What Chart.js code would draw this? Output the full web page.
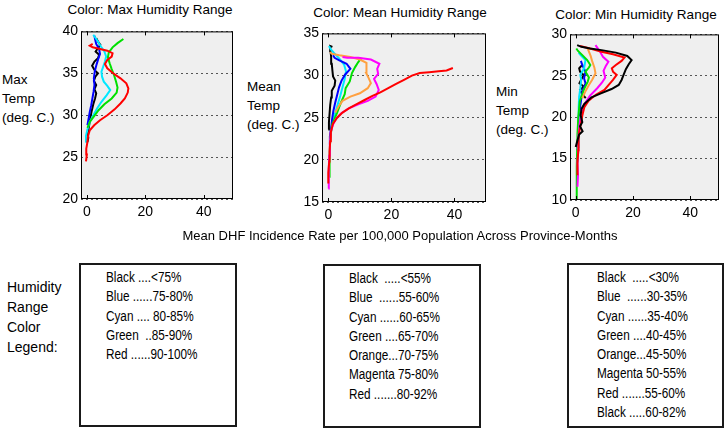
<!DOCTYPE html>
<html>
<head>
<meta charset="utf-8">
<script src="https://cdn.jsdelivr.net/npm/chart.js@4/dist/chart.umd.min.js"></script>
<style>
  html, body { margin: 0; padding: 0; background: #fff; }
  #page { position: relative; width: 727px; height: 430px; overflow: hidden;
          font-family: "Liberation Sans", Arial, sans-serif; color: #000; }
  .abs { position: absolute; white-space: pre; }
  .title { font-size: 13.5px; line-height: 16px; transform: translateX(-50%); }
  .ylab { font-size: 13.5px; line-height: 19px; }
  .xlab { font-size: 13px; line-height: 16px; transform: translateX(-50%); }
  .box { position: absolute; border: 2px solid #1a1a1a; box-sizing: border-box; }
  .leg { font-size: 14px; line-height: 19.3px; transform: scaleX(0.84); transform-origin: 0 0; }
  canvas { position: absolute; }
</style>
</head>
<body>
<div id="page">
  <div class="abs title" style="left:150px; top:2px;">Color: Max Humidity Range</div>
  <div class="abs title" style="left:400px; top:5px;">Color: Mean Humidity Range</div>
  <div class="abs title" style="left:636px; top:7px;">Color: Min Humidity Range</div>

  <div class="abs ylab" style="left:2px; top:70px;">Max
Temp
(deg. C.)</div>
  <div class="abs ylab" style="left:247px; top:77px;">Mean
Temp
(deg. C.)</div>
  <div class="abs ylab" style="left:496px; top:82px;">Min
Temp
(deg. C.)</div>

  <canvas id="c-max" width="200" height="215" style="left:41px; top:20px;"></canvas>
  <canvas id="c-mean" width="212" height="215" style="left:282px; top:22px;"></canvas>
  <canvas id="c-min" width="195" height="212" style="left:530px; top:23px;"></canvas>

  <div class="abs xlab" style="left:400px; top:228px;">Mean DHF Incidence Rate per 100,000 Population Across Province-Months</div>

  <div class="abs ylab" style="left:7px; top:277px; font-size:14px; line-height:20px;">Humidity
Range
Color
Legend:</div>

  <div class="box" style="left:79px; top:263px; width:158px; height:164px;"></div>
  <div class="box" style="left:323px; top:264px; width:158px; height:164px;"></div>
  <div class="box" style="left:567px; top:263px; width:157px; height:165px;"></div>

  <div class="abs leg" style="left:106px; top:268px;">Black ....&lt;75%
Blue ......75-80%
Cyan .... 80-85%
Green  ..85-90%
Red ......90-100%</div>
  <div class="abs leg" style="left:349px; top:269px;">Black  .....&lt;55%
Blue  ......55-60%
Cyan ......60-65%
Green ....65-70%
Orange...70-75%
Magenta 75-80%
Red .......80-92%</div>
  <div class="abs leg" style="left:597px; top:268px;">Black  .....&lt;30%
Blue  ......30-35%
Cyan ......35-40%
Green ....40-45%
Orange...45-50%
Magenta 50-55%
Red .......55-60%
Black .....60-82%</div>
</div>

<script>
(function () {
  'use strict';

  // ── Axis ticks ─────────────────────────────────────────────────
  const xTicks = [0, 20, 40];
  const maxTempTicks = [20, 25, 30, 35, 40];
  const meanTempTicks = [15, 20, 25, 30, 35];
  const minTempTicks = [10, 15, 20, 25, 30];

  // ── Max humidity range (y = max temp, x = mean DHF rate) ───────
  const maxRedX   = [-0.3, 0.0, -0.2, 0.2, 0.4, 1.0, 2.5, 4.5, 7.0, 9.5, 11.5, 13.0, 14.0, 14.2, 13.5, 11.5, 9.0, 7.0, 6.2, 7.0, 8.5, 8.8, 7.0, 4.5, 2.0, 1.0, 2.0];
  const maxRedY   = [24.5, 25.3, 26.0, 26.8, 27.5, 28.2, 28.8, 29.4, 30.0, 30.7, 31.4, 32.0, 32.7, 33.2, 33.8, 34.4, 35.0, 35.6, 36.1, 36.6, 37.0, 37.4, 37.7, 37.9, 38.1, 38.3, 38.5];
  const maxGreenX = [0.2, 1.0, 2.5, 4.0, 6.0, 8.5, 10.2, 10.5, 10.0, 9.3, 8.5, 7.8, 7.2, 7.5, 8.8, 10.5, 12.5];
  const maxGreenY = [28.5, 29.2, 29.9, 30.6, 31.3, 32.0, 32.7, 33.3, 34.0, 34.8, 35.5, 36.2, 36.9, 37.5, 38.1, 38.6, 39.1];
  const maxCyanX  = [-0.5, -0.3, 0.2, 1.0, 2.2, 3.5, 5.0, 6.8, 8.0, 7.0, 5.8, 5.2, 5.0, 5.6, 6.2, 6.6, 6.0, 4.8, 3.8, 2.8, 2.2];
  const maxCyanY  = [26.8, 27.5, 28.3, 29.2, 30.0, 30.8, 31.6, 32.4, 33.0, 33.5, 34.0, 34.6, 35.2, 35.8, 36.4, 37.0, 37.6, 38.2, 38.8, 39.3, 39.6];
  const maxBlueX  = [0.2, 0.6, 1.0, 1.5, 1.9, 2.3, 2.6, 2.4, 2.7, 3.2, 3.8, 4.5, 4.2, 3.2, 2.8, 2.6];
  const maxBlueY  = [28.8, 29.6, 30.4, 31.2, 32.0, 32.8, 33.6, 34.4, 35.2, 35.9, 36.6, 37.3, 37.9, 38.5, 39.1, 39.5];
  const maxBlackX = [0.2, 0.5, 0.3, 0.7, 1.1, 1.6, 2.2, 2.8, 3.2, 2.6, 3.2, 2.4, 2.9, 3.8, 2.6, 1.8, 2.6, 3.8, 4.2, 3.0, 3.8, 4.6, 3.8, 3.2];
  const maxBlackY = [26.8, 27.3, 27.8, 28.6, 29.5, 30.4, 31.3, 32.0, 32.6, 33.1, 33.6, 34.1, 34.6, 35.0, 35.4, 35.9, 36.4, 36.8, 37.2, 37.6, 38.0, 38.4, 38.8, 39.2];

  // ── Mean humidity range ────────────────────────────────────────
  const meanRedX     = [0.0, 0.0, 0.3, 0.4, 0.6, 0.8, 1.5, 2.8, 4.5, 6.5, 9.0, 11.5, 14.0, 16.5, 19.0, 21.5, 24.0, 26.5, 29.0, 32.0, 35.0, 37.5, 39.5];
  const meanRedY     = [17.2, 18.5, 19.8, 21.0, 22.2, 23.3, 24.3, 25.0, 25.6, 26.1, 26.6, 27.1, 27.6, 28.0, 28.5, 29.0, 29.5, 30.0, 30.3, 30.4, 30.5, 30.6, 30.9];
  const meanMagentaX = [0.0, 0.2, 0.1, 0.3, 0.5, 0.8, 1.5, 2.5, 4.0, 6.5, 9.5, 12.5, 15.0, 16.0, 15.3, 14.5, 15.8, 15.5, 16.2, 13.5, 9.5, 6.0, 4.5];
  const meanMagentaY = [16.6, 17.8, 19.0, 20.5, 22.0, 23.3, 24.2, 24.9, 25.5, 26.1, 26.6, 27.0, 27.5, 28.3, 29.0, 29.6, 30.2, 30.8, 31.4, 31.9, 32.1, 32.1, 32.2];
  const meanOrangeX  = [2.2, 3.2, 4.5, 7.0, 10.0, 12.5, 13.5, 12.8, 12.0, 12.2, 12.0, 10.0, 7.0, 3.5, 1.0, 0.6];
  const meanOrangeY  = [25.6, 26.3, 27.0, 27.5, 27.9, 28.5, 29.1, 29.7, 30.3, 31.0, 31.5, 31.9, 32.2, 32.4, 32.6, 32.8];
  const meanGreenX   = [0.3, 0.4, 0.6, 1.2, 2.8, 4.0, 5.2, 5.5, 6.8, 7.5, 8.5, 9.5, 10.5];
  const meanGreenY   = [18.0, 20.0, 22.5, 24.2, 25.6, 26.8, 27.8, 28.5, 29.3, 30.3, 31.0, 31.6, 32.1];
  const meanBlueX    = [0.3, 0.5, 0.9, 1.2, 1.6, 2.2, 2.8, 3.4, 4.2, 5.3, 7.0, 5.8, 3.5, 2.0, 1.5];
  const meanBlueY    = [21.8, 22.8, 23.8, 24.8, 25.8, 26.8, 27.7, 28.6, 29.4, 30.1, 30.8, 31.4, 31.8, 32.1, 32.4];
  const meanCyanX    = [1.2, 2.2, 3.0, 3.8, 4.5, 5.2, 5.6, 5.0, 3.5, 2.0, 0.8, 0.2];
  const meanCyanY    = [24.6, 25.6, 26.6, 27.6, 28.6, 29.6, 30.5, 31.3, 32.0, 32.6, 33.1, 33.5];
  const meanBlackX   = [0.0, 0.2, 0.4, 0.6, 0.9, 1.1, 2.0, 2.2, 1.5, 1.3, 1.1, 0.9, 0.7, 0.6, 1.3];
  const meanBlackY   = [23.6, 24.5, 25.5, 26.5, 27.4, 28.2, 28.8, 29.4, 29.9, 30.6, 31.4, 32.2, 32.9, 33.5, 33.4];

  // ── Min humidity range ─────────────────────────────────────────
  const minBlackX    = [0.0, 0.6, 1.2, 2.4, 1.5, 2.3, 1.7, 2.0, 3.0, 5.5, 9.0, 12.5, 15.0, 16.0, 16.8, 17.5, 18.5, 19.5, 18.0, 14.0, 9.0, 5.0, 2.0, 0.5];
  const minBlackY    = [16.4, 17.2, 17.9, 18.3, 18.9, 19.4, 20.2, 21.0, 21.6, 22.4, 22.9, 23.4, 23.9, 24.5, 25.2, 25.8, 26.4, 26.9, 27.4, 27.8, 28.1, 28.3, 28.5, 28.7];
  const minRedX      = [0.6, 0.6, 0.9, 1.0, 1.2, 1.8, 2.3, 3.0, 4.5, 7.0, 10.0, 11.5, 13.0, 14.3, 13.0, 12.6, 14.0, 16.0, 17.0, 13.0, 9.0, 5.0, 1.5];
  const minRedY      = [13.0, 14.5, 16.0, 17.2, 18.2, 19.2, 20.2, 21.2, 22.0, 22.7, 23.3, 23.9, 24.5, 25.1, 25.5, 25.9, 26.3, 26.8, 27.2, 27.6, 27.9, 28.3, 28.6];
  const minMagentaX  = [0.6, 0.8, 0.6, 0.9, 0.9, 1.3, 1.8, 2.9, 5.0, 7.5, 9.2, 10.3, 9.7, 10.5, 11.4, 9.5, 8.5, 7.5, 6.9];
  const minMagentaY  = [11.6, 13.0, 14.5, 16.0, 17.5, 19.0, 20.2, 21.5, 22.6, 23.5, 24.2, 24.8, 25.6, 26.2, 26.7, 27.3, 27.9, 28.4, 28.7];
  const minOrangeX   = [2.3, 3.5, 4.6, 5.7, 6.9, 6.5, 5.7, 5.2, 4.5, 4.0];
  const minOrangeY   = [22.3, 23.2, 23.9, 24.5, 25.3, 26.0, 26.8, 27.4, 28.0, 28.4];
  const minGreenX    = [0.2, 0.3, 0.4, 0.5, 0.6, 0.9, 1.4, 2.9, 4.2, 4.6, 3.4, 4.6, 5.1, 4.0, 2.3, 0.8, 0.2];
  const minGreenY    = [10.0, 12.0, 14.0, 16.0, 18.0, 20.0, 21.9, 23.4, 24.3, 24.8, 25.5, 26.0, 26.3, 26.9, 27.5, 28.0, 28.3];
  const minCyanX     = [0.6, 0.8, 1.0, 1.0, 1.1, 1.2, 1.6, 1.9, 1.6, 2.9, 3.4, 1.7, 1.0];
  const minCyanY     = [14.5, 16.4, 18.0, 20.0, 21.2, 22.5, 23.5, 24.5, 25.1, 25.9, 26.9, 27.5, 27.8];
  const minBlueX     = [0.6, 0.9, 1.0, 1.5, 2.3, 3.4, 2.9, 3.4, 2.3, 1.8];
  const minBlueY     = [16.0, 18.0, 20.0, 21.2, 23.1, 24.1, 24.7, 25.5, 26.3, 26.8];
  const minBlack2X   = [3.5, 2.2, 1.5, 2.8, 1.3, 2.0, 2.8, 1.5, 1.2, 2.2];
  const minBlack2Y   = [22.3, 22.8, 23.3, 23.7, 24.1, 24.6, 25.1, 25.5, 25.9, 26.3];

  // ── Colours ────────────────────────────────────────────────────
  const C = {
    black: '#000000', blue: '#0000ff', cyan: '#00e8ff', green: '#00e000',
    orange: '#ffa040', magenta: '#ff00ff', red: '#ff0000',
  };

  // ── Helpers ────────────────────────────────────────────────────
  function pts(xs, ys) {
    return xs.map((x, i) => ({ x: x, y: ys[i] }));
  }

  function line(xs, ys, color) {
    return {
      data: pts(xs, ys),
      borderColor: color,
      backgroundColor: color,
      borderWidth: 2,
      pointRadius: 0,
      showLine: true,
      tension: 0,
    };
  }

  // grey plot background and the black box around it
  const framePlugin = {
    id: 'frame',
    beforeDraw(chart) {
      const a = chart.chartArea, ctx = chart.ctx;
      ctx.save();
      ctx.fillStyle = '#efefef';
      ctx.fillRect(a.left, a.top, a.right - a.left, a.bottom - a.top);
      ctx.restore();
    },
    afterDatasetsDraw(chart) {
      const a = chart.chartArea, ctx = chart.ctx;
      ctx.save();
      ctx.strokeStyle = '#000';
      ctx.lineWidth = 1;
      ctx.strokeRect(a.left + 0.5, a.top + 0.5, a.right - a.left - 1, a.bottom - a.top - 1);
      // inward tick marks at the x ticks
      const xs = chart.scales.x;
      xTicks.forEach(v => {
        const px = Math.round(xs.getPixelForValue(v)) + 0.5;
        ctx.beginPath();
        ctx.moveTo(px, a.bottom); ctx.lineTo(px, a.bottom - 4);
        ctx.moveTo(px, a.top); ctx.lineTo(px, a.top + 4);
        ctx.stroke();
      });
      ctx.restore();
    },
  };

  const font = { family: '"Liberation Sans", Arial, sans-serif', size: 14 };

  function makeChart(id, datasets, yTicks, geo) {
    const ctx = document.getElementById(id).getContext('2d');
    return new Chart(ctx, {
      type: 'scatter',
      data: { datasets: datasets },
      options: {
        responsive: false,
        animation: false,
        devicePixelRatio: 1,
        layout: { padding: { top: geo.top, right: geo.right, left: 0, bottom: 0 } },
        plugins: { legend: { display: false }, tooltip: { enabled: false } },
        scales: {
          x: {
            type: 'linear',
            min: -2, max: 50,
            afterBuildTicks: ax => { ax.ticks = xTicks.map(v => ({ value: v })); },
            afterFit: ax => { ax.height = geo.xh; },
            grid: { display: false, drawTicks: false },
            border: { display: false },
            ticks: { color: '#000', font: font, padding: 5, maxRotation: 0 },
          },
          y: {
            type: 'linear',
            min: yTicks[0], max: yTicks[yTicks.length - 1],
            afterBuildTicks: ax => { ax.ticks = yTicks.map(v => ({ value: v })); },
            afterFit: ax => { ax.width = geo.yw; },
            grid: { color: '#555', lineWidth: 1, drawTicks: false },
            border: { display: false, dash: [2, 3] },
            ticks: { color: '#000', font: font, padding: 3 },
          },
        },
      },
      plugins: [framePlugin],
    });
  }

  // ── Boot ───────────────────────────────────────────────────────
  // first dataset is drawn on top
  makeChart('c-max', [
    line(maxRedX, maxRedY, C.red),
    line(maxGreenX, maxGreenY, C.green),
    line(maxCyanX, maxCyanY, C.cyan),
    line(maxBlueX, maxBlueY, C.blue),
    line(maxBlackX, maxBlackY, C.black),
  ], maxTempTicks, { top: 9, right: 8, xh: 36, yw: 40 });

  makeChart('c-mean', [
    line(meanRedX, meanRedY, C.red),
    line(meanMagentaX, meanMagentaY, C.magenta),
    line(meanOrangeX, meanOrangeY, C.orange),
    line(meanGreenX, meanGreenY, C.green),
    line(meanBlueX, meanBlueY, C.blue),
    line(meanCyanX, meanCyanY, C.cyan),
    line(meanBlackX, meanBlackY, C.black),
  ], meanTempTicks, { top: 10, right: 8, xh: 35, yw: 40 });

  makeChart('c-min', [
    line(minBlackX, minBlackY, C.black),
    line(minRedX, minRedY, C.red),
    line(minMagentaX, minMagentaY, C.magenta),
    line(minOrangeX, minOrangeY, C.orange),
    line(minGreenX, minGreenY, C.green),
    line(minCyanX, minCyanY, C.cyan),
    line(minBlueX, minBlueY, C.blue),
    line(minBlack2X, minBlack2Y, C.black),
  ], minTempTicks, { top: 10, right: 6, xh: 35, yw: 40 });
})();
</script>
</body>
</html>
